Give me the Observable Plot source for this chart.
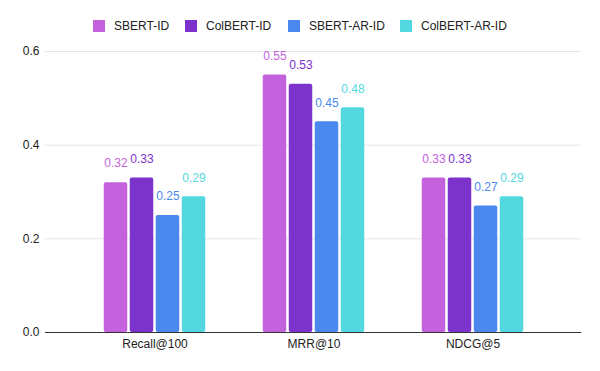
<!DOCTYPE html>
<html>
<head>
<meta charset="utf-8">
<script src="https://cdn.jsdelivr.net/npm/d3@7"></script>
<script src="https://cdn.jsdelivr.net/npm/@observablehq/plot@0.6"></script>
<style>
  body { margin: 0; background: #fff; font-family: "Liberation Sans", Arial, sans-serif; }
  #wrap { position: relative; width: 600px; height: 371px; }
  #legend { position: relative; height: 40px; width: 600px; }
  .item { position: absolute; top: 19px; height: 14px; font-size: 12px; color: #222; line-height: 14px; white-space: nowrap; }
  .sw { position: absolute; left: 0; top: 1px; width: 12px; height: 12px; }
  .lab { position: absolute; left: 21px; top: 0; }
</style>
</head>
<body>
<div id="wrap">
  <div id="legend"></div>
  <div id="chart"></div>
</div>
<script>
const metrics = ["Recall@100", "MRR@10", "NDCG@5"];
const series = ["SBERT-ID", "ColBERT-ID", "SBERT-AR-ID", "ColBERT-AR-ID"];
const colors = ["#c462dd", "#7b33cc", "#4a88ee", "#53d8e0"];
const values = {
  "SBERT-ID":      [0.32, 0.55, 0.33],
  "ColBERT-ID":    [0.33, 0.53, 0.33],
  "SBERT-AR-ID":   [0.25, 0.45, 0.27],
  "ColBERT-AR-ID": [0.29, 0.48, 0.29]
};
const yTicks = [0, 0.2, 0.4, 0.6];

const data = [];
series.forEach((s, i) => metrics.forEach((m, j) => data.push({metric: m, series: s, si: i, value: values[s][j]})));

// legend
const legendX = [93, 185, 288, 400];
const legend = document.getElementById("legend");
series.forEach((s, i) => {
  const it = document.createElement("div");
  it.className = "item";
  it.style.left = legendX[i] + "px";
  it.innerHTML = `<span class="sw" style="background:${colors[i]}"></span><span class="lab">${s}</span>`;
  legend.appendChild(it);
});

const barW = 24, pitch = 26, bandW = 159.5;
const marks = [
  Plot.ruleY(yTicks.filter(d => d > 0), {stroke: "#e6e6e6", strokeWidth: 1})
];
series.forEach((s, i) => {
  const left = (bandW / 2) - 51 + pitch * i;
  const sub = data.filter(d => d.series === s);
  marks.push(Plot.barY(sub, {
    x: "metric", y: "value", fill: colors[i], rx: 2,
    insetLeft: left, insetRight: bandW - left - barW
  }));
  marks.push(Plot.text(sub, {
    x: "metric", y: "value", text: d => d.value.toFixed(2),
    dx: -39 + pitch * i, dy: -19, fill: colors[i], fontSize: 12, lineAnchor: "middle"
  }));
});
marks.push(Plot.ruleY([0], {stroke: "#333", strokeWidth: 1}));
marks.push(Plot.axisY({ticks: yTicks, tickFormat: d => d.toFixed(1), tickSize: 0, tickPadding: 6, fontSize: 12, color: "#222", label: null}));
marks.push(Plot.axisX({tickSize: 0, tickPadding: 7, fontSize: 12, color: "#222", label: null}));

const plot = Plot.plot({
  width: 600,
  height: 331,
  marginLeft: 45,
  marginRight: 19,
  marginTop: 11,
  marginBottom: 39,
  style: {fontFamily: "'Liberation Sans', Arial, sans-serif", fontSize: "12px", color: "#222", background: "#fff"},
  x: {type: "band", domain: metrics, padding: 0, insetLeft: 29, insetRight: 27.5},
  y: {domain: [0, 0.6]},
  marks
});
document.getElementById("chart").appendChild(plot);
</script>
</body>
</html>
